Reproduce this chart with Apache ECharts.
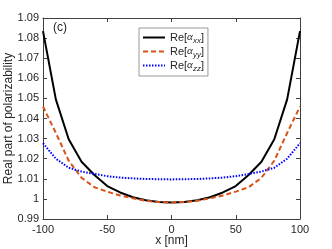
<!DOCTYPE html>
<html><head><meta charset="utf-8">
<script src="https://cdn.jsdelivr.net/npm/echarts@6/dist/echarts.min.js"></script>
<style>html,body{margin:0;padding:0;background:#fff}#c{width:332px;height:249px}</style>
</head><body><div id="c"></div>
<script>
var xs = [-100,-90,-80,-70,-60,-50,-40,-30,-20,-10,0,10,20,30,40,50,60,70,80,90,100];
var reXX = [1.0835,1.0495,1.0297,1.0185,1.0119,1.0064,1.0032,1.0008,0.9993,0.9985,0.9982,0.9985,0.9993,1.0008,1.0032,1.0064,1.0119,1.0185,1.0297,1.0495,1.0835];
var reYY = [1.0460,1.0328,1.0190,1.0105,1.0058,1.0036,1.0017,1.0003,0.9991,0.9984,0.9982,0.9984,0.9991,1.0003,1.0017,1.0036,1.0058,1.0105,1.0190,1.0328,1.0460];
var reZZ = [1.0277,1.0200,1.0155,1.0136,1.0124,1.0113,1.0106,1.0102,1.0099,1.0098,1.0097,1.0098,1.0099,1.0102,1.0106,1.0113,1.0124,1.0136,1.0155,1.0200,1.0277];
var xTicks = [-100,-50,0,50,100];
var yTicks = [0.99,1,1.01,1.02,1.03,1.04,1.05,1.06,1.07,1.08,1.09];
var names = ['xx','yy','zz'];

function pairs(v){ return xs.map(function(x,i){return [x,v[i]];}); }
var axisCol = '#404040', txtCol = '#262626';
var chart = echarts.init(document.getElementById('c'), null, {renderer:'canvas'});
var baseX = {type:'value', min:-100, max:100, interval:50,
  axisLine:{show:true,onZero:false,lineStyle:{color:axisCol,width:1}},
  axisTick:{show:true,inside:true,length:4,lineStyle:{color:axisCol}},
  splitLine:{show:false}};
var baseY = {type:'value', min:0.99, max:1.09, interval:0.01,
  axisLine:{show:true,onZero:false,lineStyle:{color:axisCol,width:1}},
  axisTick:{show:true,inside:true,length:4,lineStyle:{color:axisCol}},
  splitLine:{show:false}};
chart.setOption({
  animation:false,
  backgroundColor:'#fff',
  textStyle:{fontFamily:'Liberation Sans, Arial, sans-serif'},
  grid:{left:43,right:32,top:18,bottom:30,containLabel:false,outerBoundsMode:'none'},
  xAxis:[
    Object.assign({}, baseX, {position:'bottom',
      name:'x [nm]', nameLocation:'middle', nameGap:16, nameMoveOverlap:false,
      nameTextStyle:{fontSize:12,color:txtCol,fontFamily:'Liberation Sans'},
      axisLabel:{fontSize:11,color:txtCol,margin:5,fontFamily:'Liberation Sans',
        formatter:function(v){return xTicks.indexOf(v)>=0? String(v):'';}}}),
    Object.assign({}, baseX, {position:'top', axisLabel:{show:false}})
  ],
  yAxis:[
    Object.assign({}, baseY, {position:'left',
      name:'Real part of polarizability', nameLocation:'middle', nameGap:28, nameMoveOverlap:false,
      nameTextStyle:{fontSize:12,color:txtCol,fontFamily:'Liberation Sans'},
      axisLabel:{fontSize:11,color:txtCol,margin:4,fontFamily:'Liberation Sans',
        formatter:function(v){ var r=Math.round(v*100)/100; return String(r);}}}),
    Object.assign({}, baseY, {position:'right', axisLabel:{show:false}})
  ],
  legend:{
    orient:'vertical', left:139, top:28, padding:[4,4,3,3], itemGap:1,
    itemWidth:22, itemHeight:12,
    backgroundColor:'#fff', borderColor:'#999', borderWidth:1, borderRadius:0,
    itemStyle:{opacity:0},
    data:['Re[xx]','Re[yy]','Re[zz]'],
    formatter:function(n){ var s=n.slice(3,5); return '{a|Re[}{g|α}{s|'+s+'}{a|]}'; },
    textStyle:{color:txtCol, rich:{
      a:{fontSize:11,color:txtCol,fontFamily:'Liberation Sans'},
      g:{fontSize:11,color:txtCol,fontFamily:'Liberation Serif',fontStyle:'italic'},
      s:{fontSize:8,color:txtCol,fontFamily:'Liberation Sans',fontStyle:'italic',padding:[7,0,0,0]}
    }}
  },
  series:[
    {name:'Re[xx]', type:'line', data:pairs(reXX), symbol:'none', smooth:false,
      lineStyle:{color:'#000',width:2,type:'solid'}, itemStyle:{color:'#000'}},
    {name:'Re[yy]', type:'line', data:pairs(reYY), symbol:'none', smooth:false,
      lineStyle:{color:'#D95319',width:2,type:[5,3]}, itemStyle:{color:'#D95319'}},
    {name:'Re[zz]', type:'line', data:pairs(reZZ), symbol:'none', smooth:false,
      lineStyle:{color:'#0000FF',width:2,type:[1.5,1.5]}, itemStyle:{color:'#0000FF'}}
  ],
  graphic:[{type:'text', left:53, top:22, style:{text:'(c)', fontSize:12, fill:txtCol, fontFamily:'Liberation Sans'}}]
});
</script></body></html>
